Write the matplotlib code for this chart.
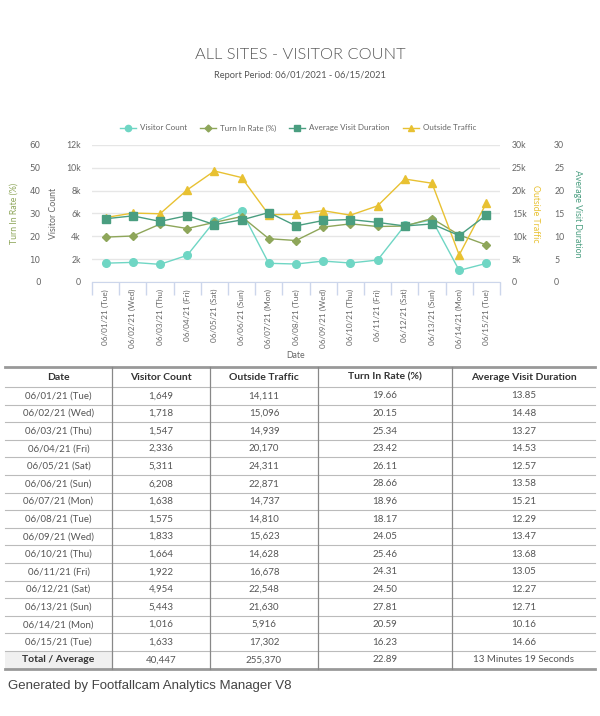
import matplotlib
matplotlib.use("Agg")
import matplotlib.pyplot as plt
from matplotlib.lines import Line2D
import numpy as np

dates = ["06/01/21 (Tue)", "06/02/21 (Wed)", "06/03/21 (Thu)", "06/04/21 (Fri)", "06/05/21 (Sat)",
         "06/06/21 (Sun)", "06/07/21 (Mon)", "06/08/21 (Tue)", "06/09/21 (Wed)", "06/10/21 (Thu)",
         "06/11/21 (Fri)", "06/12/21 (Sat)", "06/13/21 (Sun)", "06/14/21 (Mon)", "06/15/21 (Tue)"]
visitor_count = [1649, 1718, 1547, 2336, 5311, 6208, 1638, 1575, 1833, 1664, 1922, 4954, 5443, 1016, 1633]
outside_traffic = [14111, 15096, 14939, 20170, 24311, 22871, 14737, 14810, 15623, 14628, 16678, 22548, 21630, 5916, 17302]
turn_in_rate = [19.66, 20.15, 25.34, 23.42, 26.11, 28.66, 18.96, 18.17, 24.05, 25.46, 24.31, 24.50, 27.81, 20.59, 16.23]
avg_duration = [13.85, 14.48, 13.27, 14.53, 12.57, 13.58, 15.21, 12.29, 13.47, 13.68, 13.05, 12.27, 12.71, 10.16, 14.66]
total_row = ["Total / Average", "40,447", "255,370", "22.89", "13 Minutes 19 Seconds"]
headers = ["Date", "Visitor Count", "Outside Traffic", "Turn In Rate (%)", "Average Visit Duration"]

FONT = "Lato"
C_VC = "#6fd6c4"
C_TR = "#8ea65a"
C_AD = "#4a9e80"
C_OT = "#e8c132"
TXT = "#666666"

W, H = 600, 716
fig = plt.figure(figsize=(W / 100, H / 100), dpi=100)

def fx(px): return px / W
def fy(py): return 1 - py / H

# Title
fig.text(0.5, fy(55), "ALL SITES - VISITOR COUNT", ha="center", va="center",
         fontsize=11.8, color="#555555", family=FONT, fontweight=300)
fig.text(0.5, fy(75), "Report Period: 06/01/2021 - 06/15/2021", ha="center", va="center",
         fontsize=6.7, color="#555555", family=FONT)

# Chart
left, right, top, bottom = 92, 500, 145, 282
ax = fig.add_axes([fx(left), fy(bottom), fx(right - left), fy(top) - fy(bottom)])
x = np.arange(len(dates))

ax_tr = ax.twinx()  # left outer
ax_ot = ax.twinx()  # right inner
ax_ad = ax.twinx()  # right outer

ax.set_ylim(0, 12000)
ax_tr.set_ylim(0, 60)
ax_ot.set_ylim(0, 30000)
ax_ad.set_ylim(0, 30)
ax.set_xlim(-0.5, len(dates) - 0.5)

ax.set_yticks(np.arange(0, 12001, 2000))
ax.set_yticklabels(["0"] + [f"{v}k" for v in range(2, 13, 2)])
ax_tr.set_yticks(np.arange(0, 61, 10))
ax_ot.set_yticks(np.arange(0, 30001, 5000))
ax_ot.set_yticklabels(["0"] + [f"{v}k" for v in range(5, 31, 5)])
ax_ad.set_yticks(np.arange(0, 31, 5))

ax.grid(axis="y", color="#e6e6e6", lw=1)
ax.set_axisbelow(True)

for a in (ax, ax_tr, ax_ot, ax_ad):
    for s in a.spines.values():
        s.set_visible(False)
    a.tick_params(axis="y", length=0, labelsize=6.3, labelcolor=TXT)
    for lbl in a.get_yticklabels():
        lbl.set_family(FONT)

ax.spines["bottom"].set_visible(True)
ax.spines["bottom"].set_color("#ccd6eb")

lab_kw = dict(fontsize=6.3, family=FONT)
# left inner axis (visitor count)
ax.tick_params(axis="y", pad=8)
ax.set_ylabel("Visitor Count", color=TXT, **lab_kw)
ax.yaxis.set_label_coords(-0.083, 0.5)
# left outer axis (turn in rate)
ax_tr.yaxis.set_ticks_position("left")
ax_tr.yaxis.set_label_position("left")
ax_tr.tick_params(axis="y", pad=37)
ax_tr.set_ylabel("Turn In Rate (%)", color=C_TR, **lab_kw)
ax_tr.yaxis.set_label_coords(-0.181, 0.5)
# right inner (outside traffic)
ax_ot.tick_params(axis="y", pad=8.5)
ax_ot.set_ylabel("Outside Traffic", color=C_OT, rotation=270, va="center", **lab_kw)
ax_ot.yaxis.set_label_coords(1.086, 0.5)
# right outer (avg duration)
ax_ad.tick_params(axis="y", pad=39)
ax_ad.set_ylabel("Average Visit Duration", color=C_AD, rotation=270, va="center", **lab_kw)
ax_ad.yaxis.set_label_coords(1.19, 0.5)

# x ticks
ax.set_xticks(x)
ax.set_xticklabels(dates, rotation=90, fontsize=5.9, color=TXT, family=FONT)
ax.tick_params(axis="x", length=0, pad=5)
ax.set_xticks(np.arange(-0.5, len(dates), 1), minor=True)
ax.tick_params(axis="x", which="minor", length=9, color="#ccd6eb", width=1)
ax.set_xlabel("Date", fontsize=6.3, color=TXT, family=FONT, labelpad=2)

# series
ax.plot(x, visitor_count, color=C_VC, lw=1, marker="o", ms=5.5, zorder=5)
ax_tr.plot(x, turn_in_rate, color=C_TR, lw=1, marker="D", ms=4)
ax_ad.plot(x, avg_duration, color=C_AD, lw=1, marker="s", ms=5.5)
ax_ot.plot(x, outside_traffic, color=C_OT, lw=1, marker="^", ms=5.5)

# legend
handles = [
    Line2D([], [], color=C_VC, lw=1, marker="o", ms=4.5),
    Line2D([], [], color=C_TR, lw=1, marker="D", ms=3.5),
    Line2D([], [], color=C_AD, lw=1, marker="s", ms=4.5),
    Line2D([], [], color=C_OT, lw=1, marker="^", ms=4.5),
]
leg = fig.legend(handles, ["Visitor Count", "Turn In Rate (%)", "Average Visit Duration", "Outside Traffic"],
                 loc="center", bbox_to_anchor=(fx(298), fy(128)), ncol=4, frameon=False,
                 prop={"family": FONT, "size": 5.8}, handlelength=2.0, columnspacing=1.6,
                 handletextpad=0.5)
for t in leg.get_texts():
    t.set_color(TXT)

# Table
tab = fig.add_axes([0, 0, 1, 1])
tab.set_xlim(0, W)
tab.set_ylim(H, 0)
tab.axis("off")
cols = [5, 112, 210, 318, 452, 595]
top_y = 367
head_h = 20
row_h = 17.6
n_rows = len(dates) + 1
bot_y = top_y + head_h + n_rows * row_h

tot_top = top_y + head_h + len(dates) * row_h
tab.fill_between([cols[0], cols[1]], tot_top, bot_y, color="#f0f0f0", lw=0, zorder=0)

tab.plot([cols[0], cols[-1]], [top_y, top_y], color="#999999", lw=2)
tab.plot([cols[0], cols[-1]], [bot_y, bot_y], color="#999999", lw=2)
for i in range(n_rows):
    yy = top_y + head_h + i * row_h
    tab.plot([cols[0], cols[-1]], [yy, yy], color="#bbbbbb", lw=0.8)
for c in cols[1:-1]:
    tab.plot([c, c], [top_y, bot_y], color="#888888", lw=0.9)

centers = [(cols[i] + cols[i + 1]) / 2 for i in range(5)]
for i, h in enumerate(headers):
    tab.text(centers[i], top_y + head_h / 2, h, ha="center", va="center", fontsize=7.5,
             fontweight="bold", color="#333333", family=FONT)

rows = []
for i in range(len(dates)):
    rows.append([dates[i], f"{visitor_count[i]:,}", f"{outside_traffic[i]:,}",
                 f"{turn_in_rate[i]:.2f}", f"{avg_duration[i]:.2f}"])
rows.append(total_row)
for r, row in enumerate(rows):
    yy = top_y + head_h + r * row_h + row_h / 2
    for i, v in enumerate(row):
        bold = (r == len(rows) - 1 and i == 0)
        tab.text(centers[i], yy, v, ha="center", va="center",
                 fontsize=7.5 if bold else 7,
                 fontweight="bold" if bold else "normal",
                 color="#333333" if bold else "#555555", family=FONT)

tab.text(8, 686, "Generated by Footfallcam Analytics Manager V8", ha="left", va="center",
         fontsize=9.5, color="#444444", family="Liberation Sans")

fig.savefig("out.png", dpi=100)
